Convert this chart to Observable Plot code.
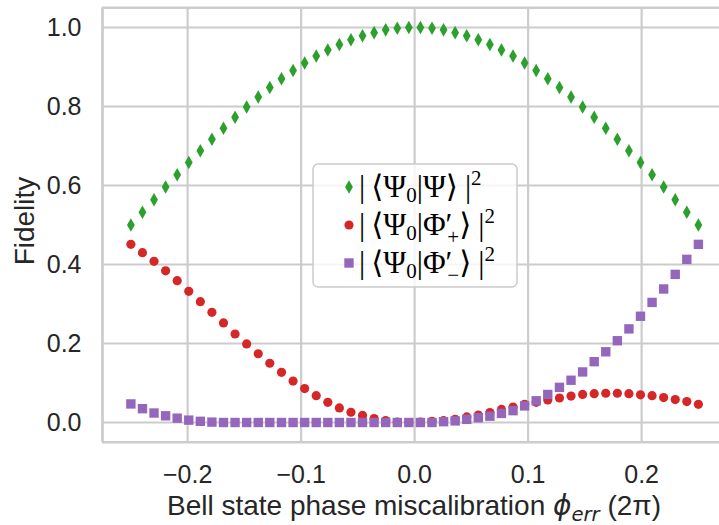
<!DOCTYPE html>
<html><head><meta charset="utf-8">
<script src="https://cdn.jsdelivr.net/npm/d3@7"></script>
<script src="https://cdn.jsdelivr.net/npm/@observablehq/plot@0.6"></script>
<style>html,body{margin:0;padding:0;background:#fff}</style>
</head><body><div id="chart"></div>
<script>
// Phase miscalibration (units of 2π)
const phiErr = [-0.2500,-0.2398,-0.2296,-0.2194,-0.2092,-0.1990,-0.1888,-0.1786,-0.1684,-0.1582,
  -0.1480,-0.1378,-0.1276,-0.1173,-0.1071,-0.0969,-0.0867,-0.0765,-0.0663,-0.0561,
  -0.0459,-0.0357,-0.0255,-0.0153,-0.0051,0.0051,0.0153,0.0255,0.0357,0.0459,
  0.0561,0.0663,0.0765,0.0867,0.0969,0.1071,0.1173,0.1276,0.1378,0.1480,
  0.1582,0.1684,0.1786,0.1888,0.1990,0.2092,0.2194,0.2296,0.2398,0.2500];
// |<Psi0|Psi>|^2
const fidPsi = [0.500,0.532,0.564,0.596,0.627,0.658,0.688,0.717,0.745,0.773,
  0.799,0.824,0.848,0.870,0.891,0.910,0.928,0.943,0.957,0.969,
  0.979,0.987,0.994,0.998,1.000,1.000,0.998,0.994,0.987,0.979,
  0.969,0.957,0.943,0.928,0.910,0.891,0.870,0.848,0.824,0.799,
  0.773,0.745,0.717,0.688,0.658,0.627,0.596,0.564,0.532,0.500];
// |<Psi0|Phi'+>|^2
const fidPhiPlus = [0.451,0.430,0.408,0.384,0.359,0.332,0.306,0.279,0.252,0.224,
  0.199,0.174,0.150,0.127,0.105,0.086,0.068,0.051,0.037,0.026,
  0.018,0.010,0.005,0.001,0.000,0.001,0.003,0.005,0.008,0.014,
  0.019,0.025,0.033,0.039,0.046,0.051,0.057,0.062,0.067,0.071,
  0.073,0.074,0.074,0.073,0.070,0.068,0.063,0.058,0.053,0.046];
// |<Psi0|Phi'->|^2
const fidPhiMinus = [0.047,0.035,0.024,0.017,0.011,0.006,0.003,0.001,0.000,0.000,
  0.000,0.000,0.000,0.000,0.000,0.000,0.000,0.000,0.000,0.000,
  0.000,0.000,0.000,0.000,0.000,0.000,0.000,0.002,0.004,0.008,
  0.012,0.016,0.023,0.030,0.042,0.055,0.071,0.089,0.107,0.128,
  0.154,0.179,0.207,0.237,0.269,0.304,0.338,0.375,0.413,0.451];

const xTicks = [-0.2,-0.1,0.0,0.1,0.2];
const yTicks = [0.0,0.2,0.4,0.6,0.8,1.0];
const fmt = d => (d < -1e-9 ? "\u2212" : "") + Math.abs(d).toFixed(1);

const rows = phiErr.map((x,i)=>({x, psi:fidPsi[i], plus:fidPhiPlus[i], minus:fidPhiMinus[i]}));

const GRID = "#cccccc";
const chart = Plot.plot({
  width:719, height:525,
  marginLeft:102, marginRight:0, marginTop:7.25, marginBottom:83.25,
  style:{fontFamily:"'Liberation Sans', Arial, sans-serif", fontSize:"25px", color:"#262626", background:"#fff", overflow:"visible"},
  x:{domain:[-0.275,0.2686]},
  y:{domain:[-0.05,1.05]},
  marks:[
    Plot.gridX(xTicks,{stroke:GRID, strokeOpacity:1, strokeWidth:2.2}),
    Plot.gridY(yTicks,{stroke:GRID, strokeOpacity:1, strokeWidth:2.2}),
    Plot.ruleY([-0.05,1.05],{stroke:GRID, strokeWidth:2.7}),
    Plot.ruleX([-0.275],{stroke:GRID, strokeWidth:2.7}),
    Plot.axisX(xTicks,{tickSize:0, tickPadding:23, tickFormat:fmt, label:null, fontSize:25}),
    Plot.axisY(yTicks,{tickSize:0, tickPadding:21, tickFormat:fmt, label:null, fontSize:25}),
    Plot.dot(rows,{x:"x", y:"psi", symbol:"diamond", r:4.1, fill:"#2ca02c", stroke:null}),
    Plot.dot(rows,{x:"x", y:"plus", symbol:"circle", r:4.6, fill:"#d62728", stroke:null}),
    Plot.dot(rows,{x:"x", y:"minus", symbol:"square", r:5.3, fill:"#9467bd", stroke:null})
  ]
});
document.getElementById("chart").appendChild(chart);

const svg = d3.select(chart);
// x label
const xl = svg.append("text").attr("x",414).attr("y",515).attr("text-anchor","middle")
  .attr("fill","#262626").style("font-family","'Liberation Sans', Arial, sans-serif").style("font-size","28px");
xl.append("tspan").text("Bell state phase miscalibration ");
xl.append("tspan").style("font-family","'DejaVu Sans', sans-serif").style("font-style","italic").text("\u03D5");
xl.append("tspan").style("font-family","'DejaVu Sans', sans-serif").style("font-style","italic").style("font-size","19.6px").attr("dy",6).text("err");
xl.append("tspan").attr("dy",-6).text(" (2\u03C0)");
// y label
svg.append("text").attr("transform","translate(33.5,221) rotate(-90)").attr("text-anchor","middle")
  .attr("fill","#262626").style("font-family","'Liberation Sans', Arial, sans-serif").style("font-size","28px").text("Fidelity");

// legend
const lg = svg.append("g").attr("text-anchor","start");
lg.append("rect").attr("x",313).attr("y",164).attr("width",204).attr("height",123).attr("rx",5)
  .attr("fill","#fff").attr("fill-opacity",0.8).attr("stroke","#cccccc").attr("stroke-width",1.5);
const items = [
  {sym:d3.symbolDiamond, r:4.1, color:"#2ca02c", mid:"\u03A8", sub:null},
  {sym:d3.symbolCircle, r:4.6, color:"#d62728", mid:"\u03A6", sub:"+"},
  {sym:d3.symbolSquare, r:5.3, color:"#9467bd", mid:"\u03A6", sub:"\u2212"}
];
const rowY = [187,225,263];
items.forEach((it,k)=>{
  const y = rowY[k];
  lg.append("path").attr("d", d3.symbol(it.sym, Math.PI*it.r*it.r)()).attr("transform",`translate(349,${y})`).attr("fill",it.color);
  const t = lg.append("text").attr("x",359).attr("y",y+10).attr("fill","#000").attr("text-anchor","start")
    .style("font-family","'Liberation Serif','DejaVu Serif',serif").style("font-size","31px");
  t.append("tspan").text("|");
  t.append("tspan").attr("dx",6).text("\u27E8\u03A8");
  t.append("tspan").style("font-size","21px").attr("dy",5).text("0");
  t.append("tspan").attr("dy",-5).text("|" + it.mid);
  if (it.sub) {
    t.append("tspan").text("\u2032");
    t.append("tspan").style("font-size","21px").attr("dx",-5).attr("dy",9).text(it.sub);
    t.append("tspan").attr("dy",-9).text("\u27E9");
  } else {
    t.append("tspan").text("\u27E9");
  }
  t.append("tspan").attr("dx",7).text("|");
  t.append("tspan").style("font-size","21px").attr("dy",-12).text("2");
});
</script></body></html>
